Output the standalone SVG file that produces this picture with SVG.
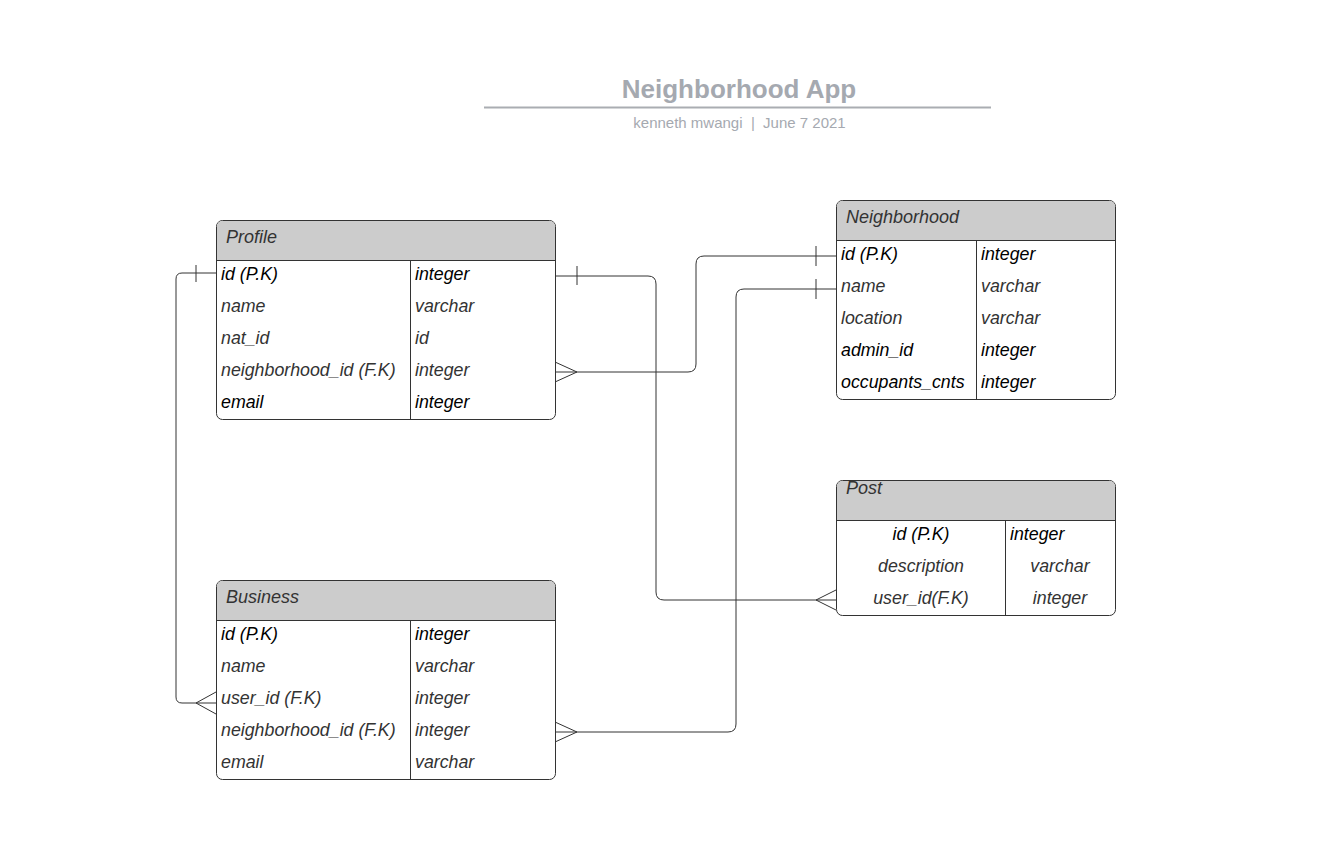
<svg xmlns="http://www.w3.org/2000/svg" width="1336" height="851" viewBox="0 0 1336 851">
<defs>
<style>
.tbl{fill:#fff;stroke:#333;stroke-width:1}
.hdr{fill:#ccc}
.sep{stroke:#333;stroke-width:1;fill:none}
text{font-family:"Liberation Sans",Arial,sans-serif}
.t{font-size:17.8px;font-style:italic;fill:#333}
.k{font-size:17.8px;font-style:italic;fill:#000}
.h{font-size:18px;font-style:italic;fill:#333}
.c{text-anchor:middle}
.ln{fill:none;stroke:#333;stroke-width:1}
</style>
</defs>
<rect width="1336" height="851" fill="#fff"/>
<g id="title">
<text x="739" y="98" text-anchor="middle" font-size="26" font-weight="bold" fill="#a5a9b0">Neighborhood App</text>
<line x1="484" y1="107.5" x2="991" y2="107.5" stroke="#aaadb2" stroke-width="2"/>
<text x="739.5" y="128" text-anchor="middle" font-size="15" fill="#a5a9b0" xml:space="preserve">kenneth mwangi  |  June 7 2021</text>
</g>
<g id="connectors">
<path class="ln" d="M216,273 H182 Q176,273 176,279 V697 Q176,703 182,703 H216"/>
<line class="ln" x1="196" y1="265" x2="196" y2="282"/>
<path class="ln" d="M216,692 L196,703 L216,714"/>
<path class="ln" d="M555,276 H648 Q656,276 656,284 V592 Q656,600 664,600 H836"/>
<line class="ln" x1="577" y1="266" x2="577" y2="285"/>
<path class="ln" d="M836,590 L816,600 L836,610"/>
<path class="ln" d="M555,372 H688 Q696,372 696,364 V264 Q696,256 704,256 H836"/>
<path class="ln" d="M555,362 L577,372 L555,382"/>
<line class="ln" x1="816" y1="246" x2="816" y2="266"/>
<path class="ln" d="M555,732 H728 Q736,732 736,724 V297 Q736,289 744,289 H836"/>
<path class="ln" d="M555,722 L577,732 L555,742"/>
<line class="ln" x1="816" y1="279" x2="816" y2="299"/>
</g>
<g id="profile">
<rect class="tbl" x="216.5" y="220.5" width="339" height="199" rx="6"/>
<path class="hdr" d="M222.5,221 H549.5 Q555,221 555,226.5 V260 H217 V226.5 Q217,221 222.5,221 Z"/>
<line class="sep" x1="216.5" y1="260.5" x2="555.5" y2="260.5"/>
<line class="sep" x1="410.5" y1="260.5" x2="410.5" y2="419.5"/>
<text class="h" x="226" y="243">Profile</text>
<text class="k" x="221" y="280">id (P.K)</text><text class="k" x="415" y="280">integer</text>
<text class="t" x="221" y="312">name</text><text class="t" x="415" y="312">varchar</text>
<text class="t" x="221" y="344">nat_id</text><text class="t" x="415" y="344">id</text>
<text class="t" x="221" y="376">neighborhood_id (F.K)</text><text class="t" x="415" y="376">integer</text>
<text class="k" x="221" y="408">email</text><text class="k" x="415" y="408">integer</text>
</g>
<g id="neighborhood">
<rect class="tbl" x="836.5" y="200.5" width="279" height="199" rx="6"/>
<path class="hdr" d="M842.5,201 H1109.5 Q1115,201 1115,206.5 V240 H837 V206.5 Q837,201 842.5,201 Z"/>
<line class="sep" x1="836.5" y1="240.5" x2="1115.5" y2="240.5"/>
<line class="sep" x1="976.5" y1="240.5" x2="976.5" y2="399.5"/>
<text class="h" x="846" y="223">Neighborhood</text>
<text class="k" x="841" y="260">id (P.K)</text><text class="k" x="981" y="260">integer</text>
<text class="t" x="841" y="292">name</text><text class="t" x="981" y="292">varchar</text>
<text class="t" x="841" y="324">location</text><text class="t" x="981" y="324">varchar</text>
<text class="k" x="841" y="356">admin_id</text><text class="k" x="981" y="356">integer</text>
<text class="k" x="841" y="388">occupants_cnts</text><text class="k" x="981" y="388">integer</text>
</g>
<g id="post">
<rect class="tbl" x="836.5" y="480.5" width="279" height="135" rx="6"/>
<path class="hdr" d="M842.5,481 H1109.5 Q1115,481 1115,486.5 V520 H837 V486.5 Q837,481 842.5,481 Z"/>
<line class="sep" x1="836.5" y1="520.5" x2="1115.5" y2="520.5"/>
<line class="sep" x1="1005.5" y1="520.5" x2="1005.5" y2="615.5"/>
<text class="h" x="846" y="494">Post</text>
<text class="k c" x="921" y="540">id (P.K)</text><text class="k" x="1010" y="540">integer</text>
<text class="t c" x="921" y="572">description</text><text class="t c" x="1060" y="572">varchar</text>
<text class="t c" x="921" y="604">user_id(F.K)</text><text class="t c" x="1060" y="604">integer</text>
</g>
<g id="business">
<rect class="tbl" x="216.5" y="580.5" width="339" height="199" rx="6"/>
<path class="hdr" d="M222.5,581 H549.5 Q555,581 555,586.5 V620 H217 V586.5 Q217,581 222.5,581 Z"/>
<line class="sep" x1="216.5" y1="620.5" x2="555.5" y2="620.5"/>
<line class="sep" x1="410.5" y1="620.5" x2="410.5" y2="779.5"/>
<text class="h" x="226" y="603">Business</text>
<text class="k" x="221" y="640">id (P.K)</text><text class="k" x="415" y="640">integer</text>
<text class="t" x="221" y="672">name</text><text class="t" x="415" y="672">varchar</text>
<text class="t" x="221" y="704">user_id (F.K)</text><text class="t" x="415" y="704">integer</text>
<text class="t" x="221" y="736">neighborhood_id (F.K)</text><text class="t" x="415" y="736">integer</text>
<text class="t" x="221" y="768">email</text><text class="t" x="415" y="768">varchar</text>
</g>
</svg>
